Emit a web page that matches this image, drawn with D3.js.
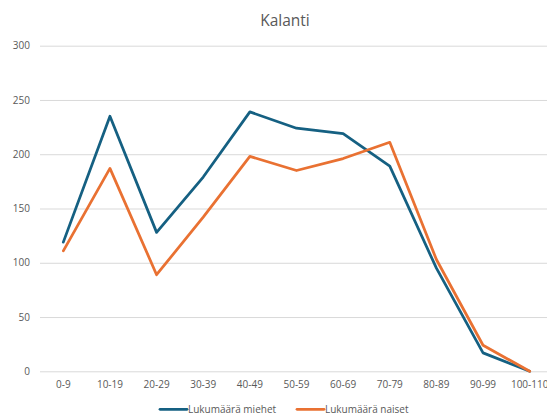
<!DOCTYPE html>
<html>
<head>
<meta charset="utf-8">
<script src="https://cdn.jsdelivr.net/npm/d3@7"></script>
<style>
  body { margin: 0; background: #fff; }
  svg { display: block; font-family: "Open Sans", sans-serif; }
</style>
</head>
<body>
<svg id="chart" width="547" height="417"></svg>
<script>
const categories = ["0-9", "10-19", "20-29", "30-39", "40-49", "50-59", "60-69", "70-79", "80-89", "90-99", "100-110"];
const miehet = [119, 235, 128, 179, 239, 224, 219, 189, 95, 17, 0];
const naiset = [111, 187, 89, 142, 198, 185, 196, 211, 103, 24, 0];
const yTicks = [0, 50, 100, 150, 200, 250, 300];
const seriesNames = ["Lukumäärä miehet", "Lukumäärä naiset"];
const colors = ["#156082", "#e97132"];

const svg = d3.select("#chart");
// plot area edges (the right edge runs past the window, like the reference)
const plot = { left: 40, right: 553, top: 45.7, bottom: 371.3 };

// scales
const xScale = d3.scaleBand()
    .domain(categories)
    .range([plot.left, plot.right])
    .padding(0);

const yScale = d3.scaleLinear()
    .domain([0, 300])
    .range([plot.bottom, plot.top]);

const xPos = c => xScale(c) + xScale.bandwidth() / 2;

// title
svg.append("text")
    .attr("x", 285)
    .attr("y", 26)
    .attr("text-anchor", "middle")
    .style("fill", "#595959")
    .style("font-size", "15.5px")
    .text("Kalanti");

// y axis + gridlines
const yAxis = svg.append("g")
    .attr("transform", `translate(${plot.left}, 0)`)
    .call(d3.axisLeft(yScale).tickValues(yTicks).tickSize(-(plot.right - plot.left)).tickPadding(10));
yAxis.select(".domain").remove();
yAxis.selectAll("line").attr("stroke", "#d9d9d9");
yAxis.selectAll("text")
    .style("fill", "#595959")
    .style("font-size", "10px")
    .style("font-family", "Open Sans, sans-serif");

// x axis
const xAxis = svg.append("g")
    .attr("transform", `translate(0, ${plot.bottom})`)
    .call(d3.axisBottom(xScale).tickSize(0).tickPadding(10));
xAxis.select(".domain").remove();
xAxis.selectAll("text")
    .style("fill", "#595959")
    .style("font-size", "10px")
    .style("font-family", "Open Sans, sans-serif");

// lines
const line = d3.line()
    .x((d, i) => xPos(categories[i]))
    .y(d => yScale(d));

[miehet, naiset].forEach((values, i) => {
    svg.append("path")
        .datum(values)
        .attr("fill", "none")
        .attr("stroke", colors[i])
        .attr("stroke-width", 2.75)
        .attr("stroke-linejoin", "round")
        .attr("stroke-linecap", "round")
        .attr("d", line);
});

// legend
const legendX = [160, 297];
seriesNames.forEach((name, i) => {
    const g = svg.append("g").attr("transform", `translate(${legendX[i]}, 409.3)`);
    g.append("line")
        .attr("x1", 0).attr("x2", 27)
        .attr("stroke", colors[i])
        .attr("stroke-width", 2.75)
        .attr("stroke-linecap", "round");
    g.append("text")
        .attr("x", 28)
        .attr("dy", "0.35em")
        .style("fill", "#595959")
        .style("font-size", "10px")
        .text(name);
});
</script>
</body>
</html>
